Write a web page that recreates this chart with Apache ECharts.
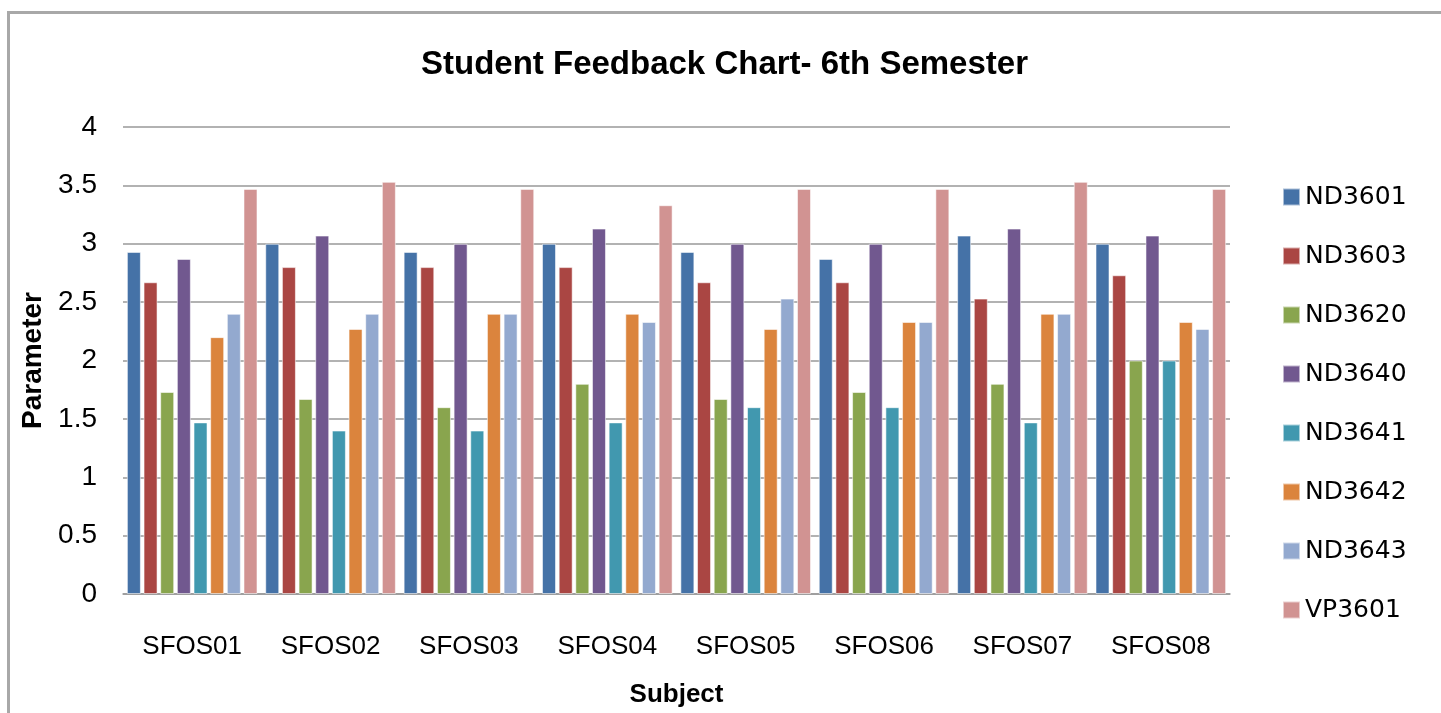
<!DOCTYPE html>
<html>
<head>
<meta charset="utf-8">
<script src="https://cdn.jsdelivr.net/npm/echarts@6/dist/echarts.min.js"></script>
<style>
  html, body { margin: 0; padding: 0; background: #fff; overflow: hidden; }
  #frame { position: absolute; left: 7px; top: 11px; width: 1500px; height: 800px;
           border-left: 3px solid #a8a8a8; border-top: 3px solid #a8a8a8; box-sizing: border-box; }
  #chart { position: absolute; left: 0; top: 0; width: 1441px; height: 713px; }
</style>
</head>
<body>
<div id="frame"></div>
<div id="chart"></div>
<script>
const categories = ['SFOS01', 'SFOS02', 'SFOS03', 'SFOS04', 'SFOS05', 'SFOS06', 'SFOS07', 'SFOS08'];
const seriesNames = ['ND3601', 'ND3603', 'ND3620', 'ND3640', 'ND3641', 'ND3642', 'ND3643', 'VP3601'];
const ND3601 = [2.93, 3.00, 2.93, 3.00, 2.93, 2.87, 3.07, 3.00];
const ND3603 = [2.67, 2.80, 2.80, 2.80, 2.67, 2.67, 2.53, 2.73];
const ND3620 = [1.73, 1.67, 1.60, 1.80, 1.67, 1.73, 1.80, 2.00];
const ND3640 = [2.87, 3.07, 3.00, 3.13, 3.00, 3.00, 3.13, 3.07];
const ND3641 = [1.47, 1.40, 1.40, 1.47, 1.60, 1.60, 1.47, 2.00];
const ND3642 = [2.20, 2.27, 2.40, 2.40, 2.27, 2.33, 2.40, 2.33];
const ND3643 = [2.40, 2.40, 2.40, 2.33, 2.53, 2.33, 2.40, 2.27];
const VP3601 = [3.47, 3.53, 3.47, 3.33, 3.47, 3.47, 3.53, 3.47];
const seriesValues = [ND3601, ND3603, ND3620, ND3640, ND3641, ND3642, ND3643, VP3601];
const colors = ['#4572A7', '#AA4643', '#89A54E', '#71588F', '#4198AF', '#DB843D', '#93A9CF', '#D19392'];

const chart = echarts.init(document.getElementById('chart'), null, { renderer: 'canvas' });
const font = '"Liberation Sans", Arial, sans-serif';
chart.setOption({
  backgroundColor: 'transparent',
  color: colors,
  animation: false,
  title: {
    text: 'Student Feedback Chart- 6th Semester',
    left: 416,
    top: 43,
    textStyle: { fontFamily: font, fontSize: 33, fontWeight: 'bold', color: '#000' }
  },
  legend: {
    orient: 'vertical',
    left: 1277,
    top: 177,
    itemWidth: 17,
    itemHeight: 17,
    itemGap: 29,
    icon: 'rect',
    textStyle: { fontFamily: '"DejaVu Sans", sans-serif', fontSize: 25, color: '#000', lineHeight: 30 },
    data: seriesNames
  },
  grid: { left: 123, right: 211, top: 127, bottom: 119, containLabel: false },
  xAxis: {
    type: 'category',
    data: categories,
    name: 'Subject',
    nameLocation: 'middle',
    nameGap: 88,
    nameTextStyle: { fontFamily: font, fontSize: 26, fontWeight: 'bold', color: '#000' },
    axisLine: { lineStyle: { color: '#999', width: 1.5 } },
    axisTick: { show: false },
    axisLabel: { fontFamily: font, fontSize: 26, color: '#000', margin: 40 }
  },
  yAxis: {
    type: 'value',
    min: 0, max: 4, interval: 0.5,
    name: 'Parameter',
    nameLocation: 'middle',
    nameGap: 65,
    nameRotate: 90,
    nameTextStyle: { fontFamily: font, fontSize: 28, fontWeight: 'bold', color: '#000' },
    axisLine: { show: false },
    axisTick: { show: false },
    splitLine: { lineStyle: { color: '#999', width: 1.5 } },
    axisLabel: { fontFamily: font, fontSize: 28, color: '#000', margin: 26 }
  },
  series: seriesNames.map((name, i) => ({
    name: name,
    type: 'bar',
    data: seriesValues[i],
    barWidth: 14,
    barGap: '19%',
    itemStyle: { color: colors[i], borderColor: 'rgba(255,255,255,0.55)', borderWidth: 1 }
  }))
});
</script>
</body>
</html>
